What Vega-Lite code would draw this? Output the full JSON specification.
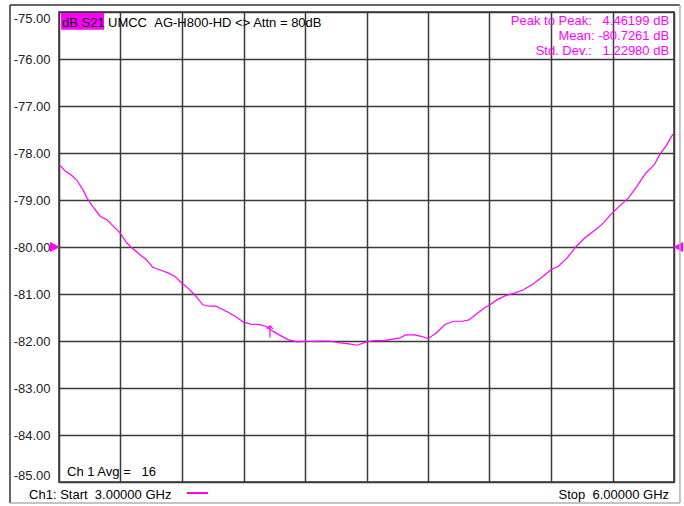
{
  "$schema": "https://vega.github.io/schema/vega-lite/v6.json",
  "width": 615,
  "height": 470,
  "autosize": {"type": "none"},
  "padding": {"left": 59, "top": 12, "right": 10, "bottom": 24},
  "background": "white",
  "config": {
    "view": {"stroke": "#333333", "strokeWidth": 1.5},
    "font": "Liberation Sans",
    "text": {"font": "Liberation Sans", "fontSize": 13}
  },
  "datasets": {
    "one": [{}],
    "trace": [
      {"f": 3.000, "v": -78.24}, {"f": 3.032, "v": -78.39}, {"f": 3.060, "v": -78.47}, {"f": 3.085, "v": -78.57},
      {"f": 3.117, "v": -78.78}, {"f": 3.138, "v": -78.97}, {"f": 3.170, "v": -79.17}, {"f": 3.202, "v": -79.35},
      {"f": 3.234, "v": -79.42}, {"f": 3.266, "v": -79.56}, {"f": 3.298, "v": -79.70}, {"f": 3.330, "v": -79.91},
      {"f": 3.351, "v": -80.00}, {"f": 3.394, "v": -80.16}, {"f": 3.426, "v": -80.27}, {"f": 3.457, "v": -80.43},
      {"f": 3.500, "v": -80.50}, {"f": 3.532, "v": -80.55}, {"f": 3.564, "v": -80.62}, {"f": 3.600, "v": -80.77},
      {"f": 3.628, "v": -80.87}, {"f": 3.660, "v": -81.01}, {"f": 3.702, "v": -81.23}, {"f": 3.734, "v": -81.26},
      {"f": 3.766, "v": -81.26}, {"f": 3.798, "v": -81.33}, {"f": 3.830, "v": -81.40}, {"f": 3.872, "v": -81.51},
      {"f": 3.900, "v": -81.60}, {"f": 3.936, "v": -81.64}, {"f": 3.979, "v": -81.65}, {"f": 4.011, "v": -81.69},
      {"f": 4.043, "v": -81.79}, {"f": 4.074, "v": -81.87}, {"f": 4.117, "v": -81.97}, {"f": 4.160, "v": -82.02},
      {"f": 4.200, "v": -82.01}, {"f": 4.245, "v": -82.01}, {"f": 4.287, "v": -82.00}, {"f": 4.330, "v": -82.01},
      {"f": 4.372, "v": -82.04}, {"f": 4.415, "v": -82.06}, {"f": 4.457, "v": -82.09}, {"f": 4.498, "v": -82.02},
      {"f": 4.543, "v": -81.99}, {"f": 4.585, "v": -81.99}, {"f": 4.628, "v": -81.96}, {"f": 4.660, "v": -81.94},
      {"f": 4.691, "v": -81.87}, {"f": 4.734, "v": -81.87}, {"f": 4.766, "v": -81.90}, {"f": 4.800, "v": -81.95},
      {"f": 4.840, "v": -81.83}, {"f": 4.883, "v": -81.65}, {"f": 4.926, "v": -81.58}, {"f": 4.968, "v": -81.58},
      {"f": 5.000, "v": -81.55}, {"f": 5.032, "v": -81.44}, {"f": 5.074, "v": -81.30}, {"f": 5.102, "v": -81.23},
      {"f": 5.138, "v": -81.12}, {"f": 5.181, "v": -81.03}, {"f": 5.223, "v": -80.98}, {"f": 5.266, "v": -80.91},
      {"f": 5.309, "v": -80.80}, {"f": 5.351, "v": -80.66}, {"f": 5.402, "v": -80.48}, {"f": 5.436, "v": -80.41},
      {"f": 5.479, "v": -80.23}, {"f": 5.521, "v": -80.00}, {"f": 5.564, "v": -79.81}, {"f": 5.606, "v": -79.67},
      {"f": 5.649, "v": -79.52}, {"f": 5.691, "v": -79.31}, {"f": 5.734, "v": -79.13}, {"f": 5.777, "v": -78.96},
      {"f": 5.819, "v": -78.71}, {"f": 5.862, "v": -78.43}, {"f": 5.904, "v": -78.25}, {"f": 5.932, "v": -78.02},
      {"f": 5.960, "v": -77.86}, {"f": 5.989, "v": -77.64}, {"f": 5.995, "v": -77.60}
    ]
  },
  "layer": [
    {
      "data": {"name": "trace"},
      "mark": {"type": "line", "color": "#ff00ff", "strokeWidth": 1.2},
      "encoding": {
        "x": {
          "field": "f", "type": "quantitative",
          "scale": {"domain": [3, 6], "nice": false, "zero": false},
          "axis": {
            "values": [3, 3.3, 3.6, 3.9, 4.2, 4.5, 4.8, 5.1, 5.4, 5.7, 6],
            "grid": true, "labels": false, "ticks": false, "domain": false, "title": null,
            "gridColor": "#3a3a3a", "gridWidth": 1.5, "gridOpacity": 1
          }
        },
        "y": {
          "field": "v", "type": "quantitative",
          "scale": {"domain": [-85, -75], "nice": false, "zero": false},
          "axis": {
            "values": [-85, -84, -83, -82, -81, -80, -79, -78, -77, -76, -75],
            "labelExpr": "'-' + format(-datum.value, '.2f')",
            "grid": true, "ticks": false, "domain": false, "title": null,
            "gridColor": "#3a3a3a", "gridWidth": 1.5, "gridOpacity": 1,
            "labelPadding": 9, "labelFlush": true, "labelFont": "Liberation Sans",
            "labelFontSize": 13, "labelColor": "#222222"
          }
        }
      }
    },
    {
      "data": {"name": "one"},
      "mark": {"type": "rect", "color": "#ff00ff", "opacity": 1},
      "encoding": {
        "x": {"datum": 3.01}, "x2": {"datum": 3.22},
        "y": {"datum": -75.02}, "y2": {"datum": -75.38}
      }
    },
    {
      "data": {"name": "one"},
      "mark": {"type": "text", "align": "left", "baseline": "alphabetic", "color": "#000000"},
      "encoding": {"x": {"datum": 3.015}, "y": {"datum": -75.32}, "text": {"value": "dB S21"}}
    },
    {
      "data": {"name": "one"},
      "mark": {"type": "text", "align": "left", "baseline": "alphabetic", "color": "#000000"},
      "encoding": {"x": {"datum": 3.239}, "y": {"datum": -75.32}, "text": {"value": "UMCC\u00a0\u00a0AG-H800-HD <> Attn = 80dB"}}
    },
    {
      "data": {"name": "one"},
      "mark": {"type": "text", "align": "right", "baseline": "alphabetic", "color": "#ff00ff"},
      "encoding": {"x": {"datum": 5.976}, "y": {"datum": -75.28}, "text": {"value": "Peak to Peak:\u00a0\u00a0\u00a04.46199 dB"}}
    },
    {
      "data": {"name": "one"},
      "mark": {"type": "text", "align": "right", "baseline": "alphabetic", "color": "#ff00ff"},
      "encoding": {"x": {"datum": 5.976}, "y": {"datum": -75.6}, "text": {"value": "Mean:\u00a0-80.7261 dB"}}
    },
    {
      "data": {"name": "one"},
      "mark": {"type": "text", "align": "right", "baseline": "alphabetic", "color": "#ff00ff"},
      "encoding": {"x": {"datum": 5.976}, "y": {"datum": -75.925}, "text": {"value": "Std. Dev.:\u00a0\u00a0\u00a01.22980 dB"}}
    },
    {
      "data": {"name": "one"},
      "mark": {"type": "text", "align": "left", "baseline": "alphabetic", "color": "#000000"},
      "encoding": {"x": {"datum": 3.039}, "y": {"datum": -84.866}, "text": {"value": "Ch 1 Avg =\u00a0\u00a0\u00a016"}}
    },
    {
      "data": {"name": "one"},
      "mark": {"type": "text", "align": "left", "baseline": "alphabetic", "color": "#000000"},
      "encoding": {"x": {"datum": 2.854}, "y": {"datum": -85.36}, "text": {"value": "Ch1: Start\u00a0\u00a03.00000 GHz"}}
    },
    {
      "data": {"name": "one"},
      "mark": {"type": "text", "align": "right", "baseline": "alphabetic", "color": "#000000"},
      "encoding": {"x": {"datum": 5.976}, "y": {"datum": -85.36}, "text": {"value": "Stop\u00a0\u00a06.00000 GHz"}}
    },
    {
      "data": {"name": "one"},
      "mark": {"type": "rule", "color": "#ff00ff", "strokeWidth": 2, "clip": false},
      "encoding": {"x": {"datum": 3.624}, "x2": {"datum": 3.727}, "y": {"datum": -85.234}}
    },
    {
      "data": {"name": "one"},
      "mark": {"type": "point", "shape": "M-1,-1L1,0L-1,1Z", "filled": true, "color": "#ff00ff", "size": 100, "opacity": 1, "xOffset": -4, "clip": false},
      "encoding": {"x": {"datum": 3}, "y": {"datum": -80}}
    },
    {
      "data": {"name": "one"},
      "mark": {"type": "point", "shape": "M1,-1L-1,0L1,1Z", "filled": true, "color": "#ff00ff", "size": 100, "opacity": 1, "xOffset": 4, "clip": false},
      "encoding": {"x": {"datum": 6}, "y": {"datum": -80}}
    },
    {
      "data": {"name": "one"},
      "mark": {"type": "point", "shape": "M0,-1L0,1M-0.5,-0.45L0,-1L0.5,-0.45", "filled": false, "color": "#ff00ff", "strokeWidth": 1.2, "size": 140, "opacity": 1},
      "encoding": {"x": {"datum": 4.029}, "y": {"datum": -81.8}}
    },
    {
      "data": {"name": "one"},
      "mark": {"type": "rule", "color": "#333333", "strokeWidth": 1.5, "clip": false},
      "encoding": {"x": {"datum": 2.761}, "y": {"datum": -74.851}, "y2": {"datum": -85.447}}
    },
    {
      "data": {"name": "one"},
      "mark": {"type": "rule", "color": "#333333", "strokeWidth": 1.5, "clip": false},
      "encoding": {"y": {"datum": -74.851}, "x": {"datum": 2.761}, "x2": {"datum": 6.029}}
    },
    {
      "data": {"name": "one"},
      "mark": {"type": "rule", "color": "#b0b0b0", "strokeWidth": 1.5, "clip": false},
      "encoding": {"x": {"datum": 6.029}, "y": {"datum": -74.851}, "y2": {"datum": -85.447}}
    },
    {
      "data": {"name": "one"},
      "mark": {"type": "rule", "color": "#b0b0b0", "strokeWidth": 1.5, "clip": false},
      "encoding": {"y": {"datum": -85.447}, "x": {"datum": 2.761}, "x2": {"datum": 6.029}}
    }
  ]
}
